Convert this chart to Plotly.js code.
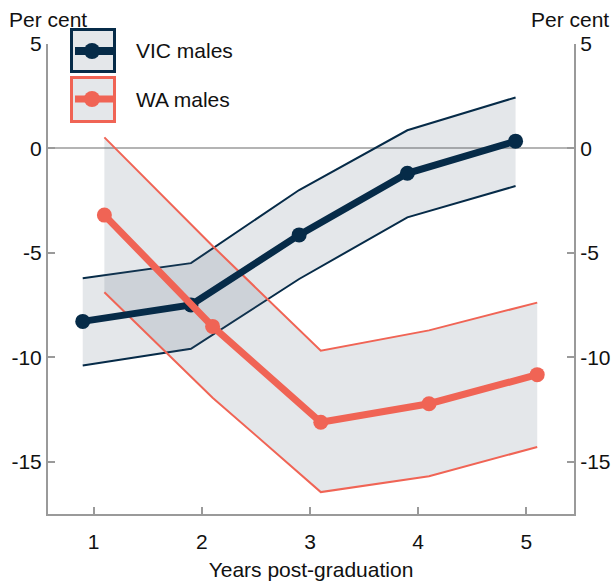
<!DOCTYPE html>
<html>
<head>
<meta charset="utf-8">
<script src="https://cdn.plot.ly/plotly-3.0.1.min.js"></script>
<style>
  html, body { margin: 0; padding: 0; background: #fff; }
  #chart { width: 613px; height: 584px; }
</style>
</head>
<body>
<div id="chart"></div>
<script>
// ---- Data ----
const years = [1, 2, 3, 4, 5];
const tickLabels = ['-15', '-10', '-5', '0', '5'];
const tickValues = [-15, -10, -5, 0, 5];
const seriesNames = ['VIC males', 'WA males'];
const vicOffset = -0.1;
const waOffset = 0.1;

const vicMid   = [-8.28, -7.49, -4.14, -1.19, 0.35];
const vicUpper = [-6.21, -5.49, -1.99, 0.87, 2.44];
const vicLower = [-10.39, -9.59, -6.25, -3.30, -1.80];

const waMid   = [-3.19, -8.52, -13.11, -12.22, -10.83];
const waUpper = [0.53, -4.67, -9.68, -8.71, -7.38];
const waLower = [-6.88, -11.93, -16.45, -15.69, -14.29];

// ---- Styling ----
const NAVY = '#062b48';
const SALMON = '#f06455';
const BAND = 'rgba(75,95,115,0.15)';
const AXIS = '#9a9a9a';
const FONT = 'Arial, "Liberation Sans", sans-serif';
const TXT = '#111111';

const vicX = years.map(v => v + vicOffset);
const waX = years.map(v => v + waOffset);

const traces = [
  { x: vicX, y: vicLower, mode: 'lines', line: { color: NAVY, width: 2 }, showlegend: false, hoverinfo: 'skip' },
  { x: vicX, y: vicUpper, mode: 'lines', line: { color: NAVY, width: 2 }, fill: 'tonexty', fillcolor: BAND, showlegend: false, hoverinfo: 'skip' },
  { x: waX, y: waLower, mode: 'lines', line: { color: SALMON, width: 2 }, showlegend: false, hoverinfo: 'skip' },
  { x: waX, y: waUpper, mode: 'lines', line: { color: SALMON, width: 2 }, fill: 'tonexty', fillcolor: BAND, showlegend: false, hoverinfo: 'skip' },
  { x: vicX, y: vicMid, name: seriesNames[0], mode: 'lines+markers', line: { color: NAVY, width: 7 }, marker: { color: NAVY, size: 15 }, showlegend: false },
  { x: waX, y: waMid, name: seriesNames[1], mode: 'lines+markers', line: { color: SALMON, width: 7 }, marker: { color: SALMON, size: 15 }, showlegend: false },
  // empty trace so the right-hand (mirrored) axis gets drawn
  { x: [], y: [], yaxis: 'y2', mode: 'lines', showlegend: false, hoverinfo: 'skip' }
];

// plot area geometry (pixels)
const M = { l: 48, r: 39, t: 44, b: 70 };
const W = 613, H = 584;
const PW = W - M.l - M.r, PH = H - M.t - M.b;
const px = v => (v - M.l) / PW;
const py = v => (H - M.b - v) / PH;

// hand-drawn legend boxes (layout decoration)
const legendItems = [
  { name: seriesNames[0], color: NAVY, top: 29.5, bottom: 71.5, cy: 51, lw: 8 },
  { name: seriesNames[1], color: SALMON, top: 77.5, bottom: 121.5, cy: 99, lw: 7 }
];
const shapes = [];
const annotations = [];
legendItems.forEach(it => {
  shapes.push({ type: 'rect', xref: 'paper', yref: 'paper', x0: px(71.5), x1: px(114.5), y0: py(it.bottom), y1: py(it.top),
    line: { color: it.color, width: 3 }, fillcolor: '#e4e7ea', layer: 'above' });
  shapes.push({ type: 'line', xref: 'paper', yref: 'paper', x0: px(75), x1: px(113), y0: py(it.cy), y1: py(it.cy),
    line: { color: it.color, width: it.lw }, layer: 'above' });
  shapes.push({ type: 'circle', xref: 'paper', yref: 'paper', xsizemode: 'pixel', ysizemode: 'pixel',
    xanchor: px(92), yanchor: py(it.cy), x0: -8, x1: 8, y0: -8, y1: 8,
    line: { width: 0 }, fillcolor: it.color, layer: 'above' });
  annotations.push({ xref: 'paper', yref: 'paper', x: px(134), y: py(it.cy), xanchor: 'left', yanchor: 'middle',
    text: it.name, showarrow: false, font: { family: FONT, size: 21, color: TXT } });
});
annotations.push({ xref: 'paper', yref: 'paper', x: 0, y: py(19), xanchor: 'center', yanchor: 'middle',
  text: 'Per cent', showarrow: false, font: { family: FONT, size: 21, color: TXT } });
annotations.push({ xref: 'paper', yref: 'paper', x: px(570), y: py(19), xanchor: 'center', yanchor: 'middle',
  text: 'Per cent', showarrow: false, font: { family: FONT, size: 21, color: TXT } });

const yCommon = {
  range: [-17.5, 5],
  tickmode: 'array', tickvals: tickValues, ticktext: tickLabels,
  ticks: 'inside', ticklen: 7, tickwidth: 2, tickcolor: AXIS,
  showline: true, linecolor: AXIS, linewidth: 2,
  showgrid: false, fixedrange: true,
  tickfont: { family: FONT, size: 21, color: TXT },
  ticklabelstandoff: 0
};

const layout = {
  width: W, height: H,
  margin: M,
  paper_bgcolor: '#ffffff', plot_bgcolor: '#ffffff',
  showlegend: false,
  font: { family: FONT, size: 21, color: TXT },
  xaxis: {
    range: [0.579, 5.44],
    tickmode: 'array', tickvals: years, ticktext: years.map(String),
    ticks: 'inside', ticklen: 7, tickwidth: 2, tickcolor: AXIS,
    showline: true, linecolor: AXIS, linewidth: 2,
    showgrid: false, zeroline: false,
    tickfont: { family: FONT, size: 21, color: TXT },
    ticklabelstandoff: 8,
    title: { text: 'Years post-graduation', font: { family: FONT, size: 21, color: TXT }, standoff: 10 }
  },
  yaxis: Object.assign({}, yCommon, { side: 'left', zeroline: true, zerolinecolor: '#b4b4b4', zerolinewidth: 2 }),
  yaxis2: Object.assign({}, yCommon, { side: 'right', overlaying: 'y', zeroline: false }),
  shapes: shapes,
  annotations: annotations
};

Plotly.newPlot('chart', traces, layout, { displayModeBar: false, staticPlot: true });
</script>
</body>
</html>
